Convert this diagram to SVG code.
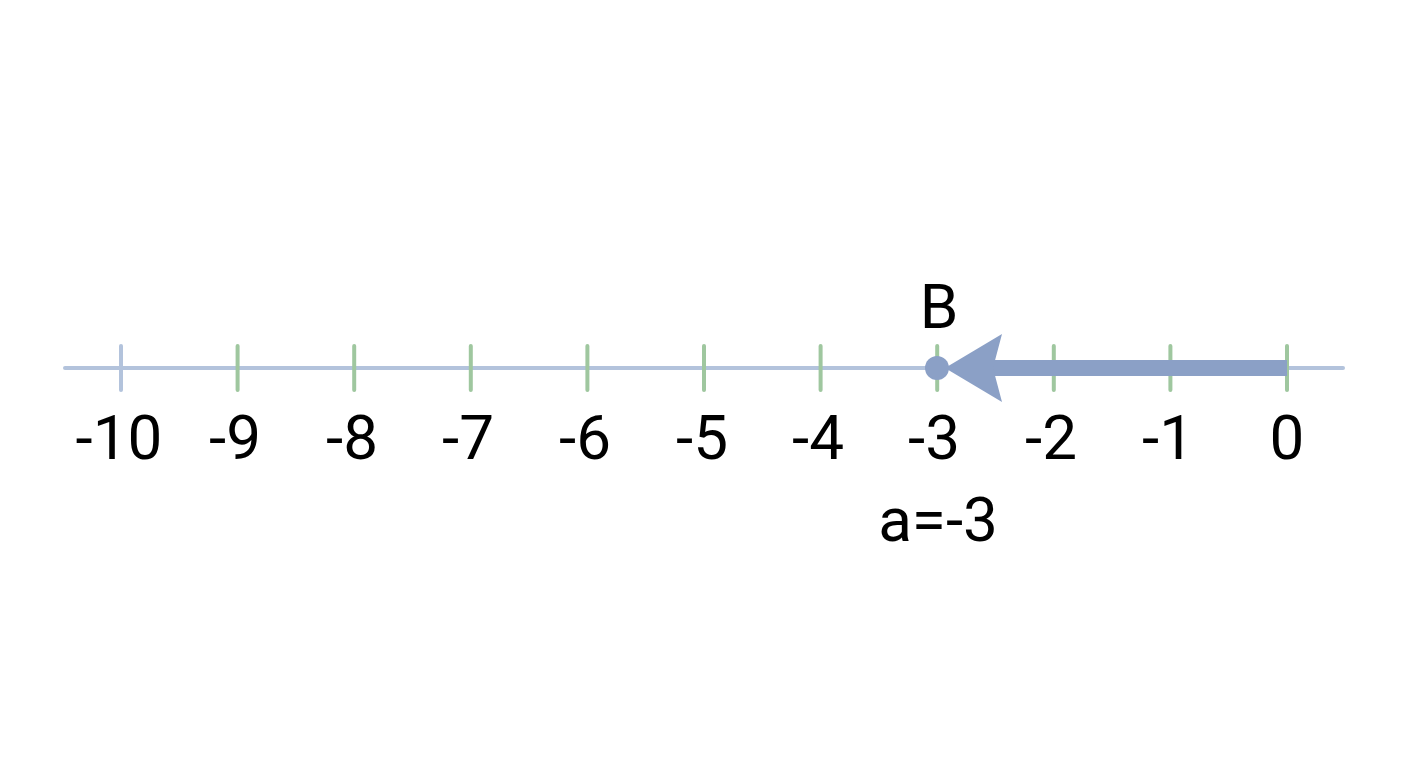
<svg xmlns="http://www.w3.org/2000/svg" width="1408" height="768" viewBox="0 0 1408 768">
<style>
.axis{stroke:#b3c3dc;stroke-width:4;stroke-linecap:round;fill:none}
.tick{stroke:#9fc79f;stroke-width:4;stroke-linecap:round}
.tick0{stroke:#b3c3dc;stroke-width:4;stroke-linecap:round}
.lbl{font-family:Roboto,"Liberation Sans",sans-serif;font-size:62px;fill:#000;text-anchor:middle}
</style>
<rect width="1408" height="768" fill="#fff"/>
<g id="axis">
<line class="axis" x1="65" y1="368" x2="1343" y2="368"/>
<line class="tick0" x1="121" y1="346" x2="121" y2="390"/>
<line class="tick" x1="237.6" y1="346" x2="237.6" y2="390"/>
<line class="tick" x1="354.2" y1="346" x2="354.2" y2="390"/>
<line class="tick" x1="470.8" y1="346" x2="470.8" y2="390"/>
<line class="tick" x1="587.4" y1="346" x2="587.4" y2="390"/>
<line class="tick" x1="704" y1="346" x2="704" y2="390"/>
<line class="tick" x1="820.6" y1="346" x2="820.6" y2="390"/>
<line class="tick" x1="937.2" y1="346" x2="937.2" y2="390"/>
<line class="tick" x1="1053.8" y1="346" x2="1053.8" y2="390"/>
<line class="tick" x1="1170.4" y1="346" x2="1170.4" y2="390"/>
<line class="tick" x1="1287" y1="346" x2="1287" y2="390"/>
</g>
<g id="labels">
<text class="lbl" x="119" y="459">-10</text>
<text class="lbl" x="235" y="459">-9</text>
<text class="lbl" x="352" y="459">-8</text>
<text class="lbl" x="468" y="459">-7</text>
<text class="lbl" x="585" y="459">-6</text>
<text class="lbl" x="702" y="459">-5</text>
<text class="lbl" x="818" y="459">-4</text>
<text class="lbl" x="934" y="459">-3</text>
<text class="lbl" x="1051" y="459">-2</text>
<text class="lbl" x="1168" y="459">-1</text>
<text class="lbl" x="1287" y="459">0</text>
</g>
<g id="connectors">
<rect x="990" y="360" width="297" height="16" fill="#8ba0c6"/>
<path d="M945,368 L1002,334 L993,368 L1002,402 Z" fill="#8ba0c6"/>
</g>
<g id="pointB">
<circle cx="937" cy="368" r="12" fill="#8ba0c6"/>
<text class="lbl" x="939" y="328">B</text>
<text class="lbl" x="938" y="541">a=-3</text>
</g>
</svg>
